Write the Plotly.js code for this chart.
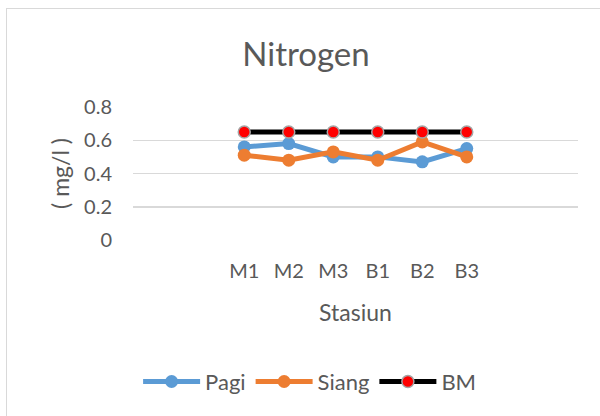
<!DOCTYPE html>
<html>
<head>
<meta charset="utf-8">
<script src="https://cdn.plot.ly/plotly-3.0.1.min.js"></script>
<style>
  html, body { margin: 0; padding: 0; background: #fff; overflow: hidden; }
  #wrap { position: relative; width: 600px; height: 416px; overflow: hidden; }
  #chart { width: 600px; height: 416px; }
  #frame {
    position: absolute; left: 6px; top: 8px; width: 700px; height: 500px;
    border: 1.5px solid #d9d9d9; pointer-events: none; box-sizing: border-box;
  }
</style>
</head>
<body>
<div id="wrap">
  <div id="chart"></div>
  <div id="frame"></div>
</div>
<script>
// Sampling stations and nitrogen concentrations (mg/l)
const stations = ['M1', 'M2', 'M3', 'B1', 'B2', 'B3'];
const pagi  = [0.56, 0.58, 0.50, 0.50, 0.47, 0.55];
const siang = [0.51, 0.48, 0.53, 0.48, 0.59, 0.50];
const bm    = [0.65, 0.65, 0.65, 0.65, 0.65, 0.65];

const FONT = 'Lato, "Open Sans", sans-serif';
const TEXT = '#595959';

const traces = [
  {
    name: 'Pagi', x: stations, y: pagi, type: 'scatter', mode: 'lines+markers',
    line: { color: '#5B9BD5', width: 5 },
    marker: { color: '#5B9BD5', size: 13 }
  },
  {
    name: 'Siang', x: stations, y: siang, type: 'scatter', mode: 'lines+markers',
    line: { color: '#ED7D31', width: 5 },
    marker: { color: '#ED7D31', size: 13 }
  },
  {
    name: 'BM', x: stations, y: bm, type: 'scatter', mode: 'lines+markers',
    line: { color: '#000000', width: 5 },
    marker: { color: '#FF0000', size: 12, line: { color: '#A5A5A5', width: 1.5 } }
  }
];

const layout = {
  width: 600, height: 416,
  margin: { l: 133, r: 22, t: 107, b: 176 },
  paper_bgcolor: '#ffffff', plot_bgcolor: '#ffffff',
  font: { family: FONT, color: TEXT, size: 20 },
  showlegend: true,
  title: {
    text: 'Nitrogen',
    font: { family: FONT, size: 33, color: TEXT },
    xref: 'container', x: 0.51, xanchor: 'center',
    yref: 'container', y: 0.868, yanchor: 'middle'
  },
  xaxis: {
    type: 'category', categoryorder: 'array', categoryarray: stations,
    range: [-2.5, 7.5], showgrid: false, zeroline: false, showline: false,
    ticks: '', ticklabelstandoff: 17,
    tickfont: { family: FONT, size: 20, color: TEXT },
    title: { text: 'Stasiun', font: { family: FONT, size: 23, color: TEXT }, standoff: 23 }
  },
  yaxis: {
    range: [0, 0.8], dtick: 0.2, tick0: 0,
    showgrid: true, gridcolor: '#d9d9d9', gridwidth: 1.5,
    zeroline: false, showline: false, ticks: '', ticklabelstandoff: 20,
    tickfont: { family: FONT, size: 20, color: TEXT },
    title: { text: '( mg/l )', font: { family: FONT, size: 23, color: TEXT }, standoff: 8 }
  },
  legend: {
    orientation: 'h',
    xref: 'container', x: 0.516, xanchor: 'center',
    yref: 'container', y: 0.0825, yanchor: 'middle',
    font: { family: FONT, size: 22, color: TEXT },
    itemwidth: 57, tracegroupgap: 0, bgcolor: 'rgba(0,0,0,0)'
  }
};

Plotly.newPlot('chart', traces, layout, { staticPlot: true, displayModeBar: false });
</script>
</body>
</html>
